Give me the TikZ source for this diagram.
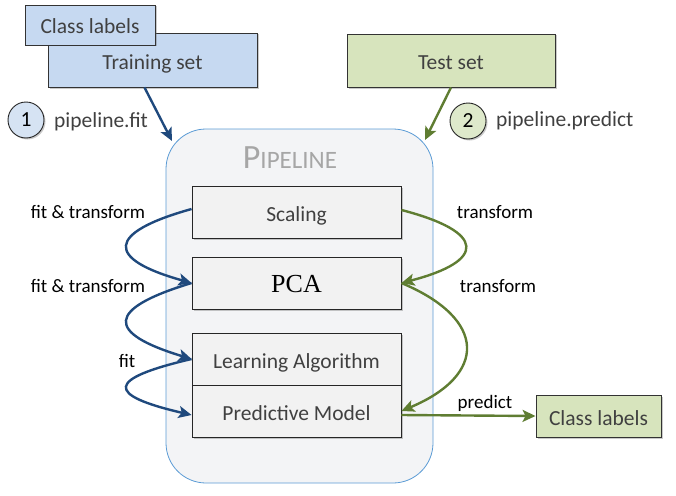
\documentclass[tikz,border=0pt]{standalone}
\usepackage{fontspec}
\setmainfont{Carlito}
\newfontfamily\serifpca{Liberation Serif}
\usetikzlibrary{arrows.meta,shadows,calc}
\definecolor{bluefill}{RGB}{198,217,241}
\definecolor{bluecirc}{RGB}{214,227,243}
\definecolor{greenfill}{RGB}{215,228,189}
\definecolor{greencirc}{RGB}{222,233,203}
\definecolor{boxfill}{RGB}{242,242,242}
\definecolor{pipefill}{RGB}{243,244,246}
\definecolor{pipeline}{RGB}{91,155,213}
\definecolor{darkblue}{RGB}{31,73,125}
\definecolor{arrgreen}{RGB}{95,125,50}
\definecolor{txtgray}{RGB}{64,64,64}
\definecolor{pipegray}{RGB}{166,166,166}
\tikzset{
  shad/.style={drop shadow={shadow xshift=1.5pt,shadow yshift=-1.5pt,opacity=0.35,fill=black!60}},
  databox/.style={draw=black!80,line width=0.9pt,shad,text=txtgray,font=\fontsize{21.5}{24}\selectfont,inner sep=0pt,text height=18pt,text depth=0pt},
  stepbox/.style={draw=black!85,line width=0.9pt,fill=boxfill,shad,text=txtgray,font=\fontsize{21.5}{24}\selectfont,minimum width=209pt,minimum height=52pt,inner sep=0pt,text height=18pt,text depth=0pt},
  numcirc/.style={circle,draw=black!85,line width=0.9pt,shad,minimum size=36pt,inner sep=0pt,text=black,font=\fontsize{21.5}{24}\selectfont},
  flabel/.style={font=\fontsize{19}{22}\selectfont,text=black,inner sep=0pt},
  ilabel/.style={font=\fontsize{21.5}{24}\selectfont,text=txtgray,inner sep=0pt,anchor=west},
  bluearr/.style={draw=darkblue,line width=2.4pt,-{Stealth[length=13pt,width=12pt,inset=3pt]}},
  greenarr/.style={draw=arrgreen,line width=2.4pt,-{Stealth[length=13pt,width=12pt,inset=3pt]}},
}
\begin{document}
\begin{tikzpicture}[x=1pt,y=-1pt]
\useasboundingbox (0,0) rectangle (676,495);
% pipeline container
\draw[draw=pipeline,fill=pipefill,line width=0.8pt,rounded corners=40pt] (166,129) rectangle (433,483);
\node (title) at (290,158) {\color{pipegray}{\fontsize{34}{34}\selectfont P}{\fontsize{25}{25}\selectfont IPELINE}};
% inputs
\node[databox,fill=bluefill,minimum width=209pt,minimum height=54pt] (trn) at (152.5,60) {Training set};
\node[databox,fill=bluefill,minimum width=130pt,minimum height=40pt] (cl1) at (90,25) {Class labels};
\node[databox,fill=greenfill,minimum width=208pt,minimum height=53pt] (tst) at (451,60.5) {Test set};
\node[databox,fill=greenfill,minimum width=125pt,minimum height=42pt] (cl2) at (598.5,416) {Class labels};
% numbered steps
\node[numcirc,fill=bluecirc] (n1) at (26,120) {1};
\node[ilabel] (fitlbl) at (54,122) {pipeline.fit};
\node[numcirc,fill=greencirc] (n2) at (468,121) {2};
\node[ilabel] (predlbl) at (496,121) {pipeline.predict};
% steps
\node[stepbox] (scal) at (296.5,212) {Scaling};
\node[stepbox,font=\serifpca\fontsize{26}{28}\selectfont,text=black] (pca) at (296.5,283) {PCA};
\node[stepbox] (la) at (296.5,359) {Learning Algorithm};
\node[stepbox] (pm) at (296.5,411) {Predictive Model};
% entry arrows
\coordinate (e1) at (172,141);
\coordinate (e2) at (425,140);
\draw[bluearr] ($(trn.south)+(-8,0)$) -- (e1);
\draw[greenarr] (tst.south) -- (e2);
% fit chain
\draw[bluearr] ($(scal.west)+(0,-3)$) .. controls +(-86,24) and +(-86,-24) .. (pca.west);
\draw[bluearr] (pca.west) .. controls +(-86,26) and +(-86,-26) .. (la.west);
\draw[bluearr] (la.west) .. controls +(-86,20) and +(-86,-20) .. ($(pm.west)+(0,4)$);
% predict chain
\draw[greenarr] ($(scal.east)+(0,-2)$) .. controls +(85,22) and +(85,-22) .. (pca.east);
\draw[greenarr] (pca.east) .. controls +(86,36) and +(86,-36) .. (pm.east);
\draw[greenarr] ($(pm.east)+(0,4)$) -- (cl2.west);
% labels
\node[flabel] (l1) at (88,212) {fit \& transform};
\node[flabel] (l2) at (88,286) {fit \& transform};
\node[flabel] (l3) at (127,361) {fit};
\node[flabel] (r1) at (495,212) {transform};
\node[flabel] (r2) at (498,286) {transform};
\node[flabel] (r3) at (485,403) {predict};
\end{tikzpicture}
\end{document}
